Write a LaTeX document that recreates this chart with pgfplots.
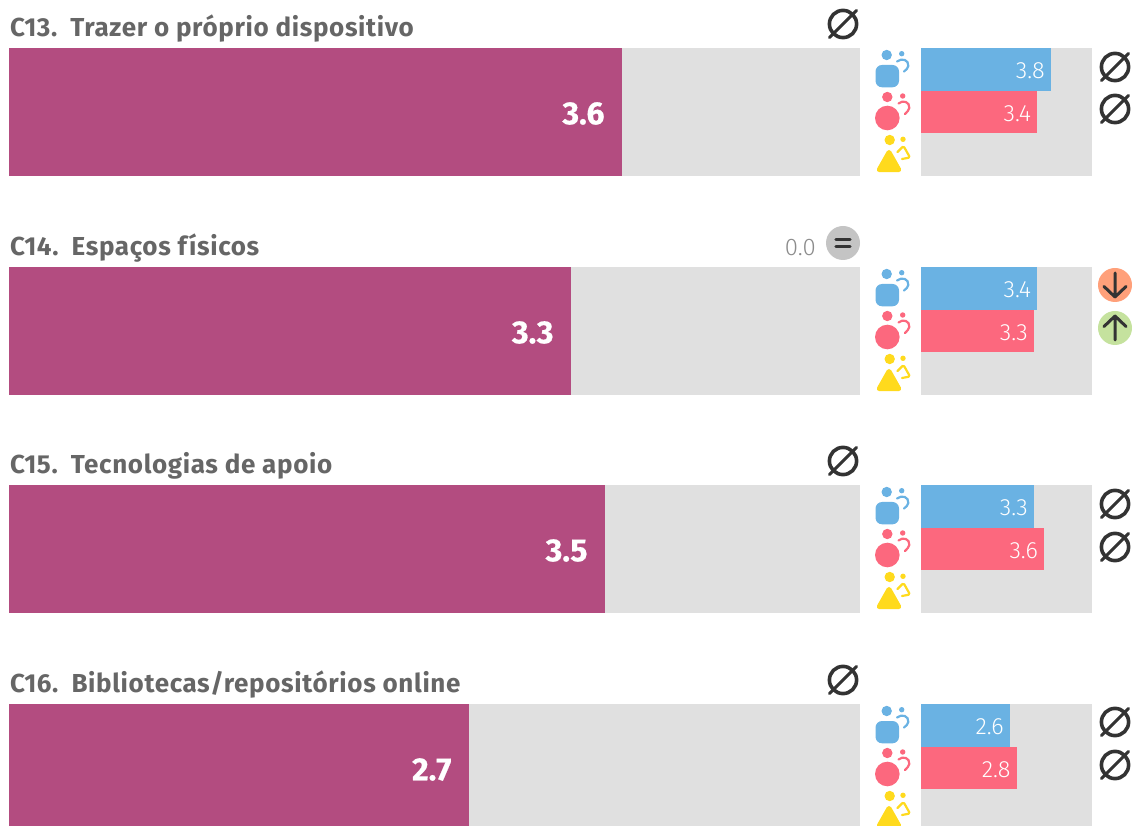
\documentclass[border=0pt]{standalone}
\usepackage{pgfplots}
\pgfplotsset{compat=1.18}
\usepackage{fontspec}
\setmainfont{Fira Sans}
\newfontfamily\titlefont[LetterSpace=2.5]{Fira Sans}
\newfontfamily\lightfont{Fira Sans Light}
\newfontfamily\bigfont[FakeBold=0.6]{Fira Sans Bold}
\definecolor{cmain}{HTML}{B34C80}
\definecolor{cblue}{HTML}{6AB2E3}
\definecolor{cred}{HTML}{FC687E}
\definecolor{cyel}{HTML}{FFDA1D}
\definecolor{cgray}{HTML}{E0E0E0}
\definecolor{ctitle}{HTML}{666666}
\definecolor{cdark}{HTML}{333333}
\definecolor{cnum}{HTML}{8C8C8C}
\definecolor{ceq}{HTML}{C4C4C4}
\definecolor{cdown}{HTML}{FFA07A}
\definecolor{cup}{HTML}{C5E29E}
\pgfplotsset{panel/.style={hide axis,scale only axis,xmin=0,xmax=5,clip=false,anchor=south west}}
% #1 top in px, #2 value
\newcommand{\mainpanel}[2]{%
\begin{axis}[panel,width=851pt,height=128pt,ymin=-0.5,ymax=0.5,
  at={(9pt,{(825-#1-128)*1pt})}]
\addplot[xbar,bar width=128pt,bar shift=0pt,fill=cgray,draw=none] coordinates {(5,0)};
\addplot[xbar,bar width=128pt,bar shift=0pt,fill=cmain,draw=none,
  point meta=x,
  nodes near coords={\pgfmathprintnumber[assume math mode=true,fixed,fixed zerofill,precision=1]{\pgfplotspointmeta}},
  every node near coord/.append style={anchor=east,inner sep=0pt,xshift=-17pt,yshift=-1.5pt,text=white,
    font=\fontsize{32}{32}\bigfont}]
  coordinates {(#2,0)};
\end{axis}}
% #1 top, #2 blue, #3 red
\newcommand{\sidepanel}[3]{%
\begin{axis}[panel,width=171pt,height=128pt,ymin=-0.5,ymax=2.5,y dir=reverse,
  at={(921pt,{(825-#1-128)*1pt})},
  sidebar/.style={xbar,bar width=42.8pt,bar shift=0pt,draw=none,point meta=x,
  nodes near coords={\pgfmathprintnumber[assume math mode=true,fixed,fixed zerofill,precision=1]{\pgfplotspointmeta}},
  every node near coord/.append style={anchor=east,inner sep=0pt,xshift=-6pt,yshift=-1.5pt,text=white,
    font=\fontsize{23.5}{23.5}\lightfont}}]
\addplot[xbar,bar width=128pt,bar shift=0pt,fill=cgray,draw=none] coordinates {(5,1)};
\addplot[sidebar,fill=cblue] coordinates {(#2,0)};
\addplot[sidebar,fill=cred] coordinates {(#3,1)};
\end{axis}}
\newcommand{\icons}[1]{%
\begin{scope}[x=1pt,y=-1pt,shift={(0pt,{(825-#1)*1pt})}]
 \fill[cblue] (886.7,7) circle (5.2) (901.7,5.7) circle (2.7);
 \fill[cblue,rounded corners=6.5pt] (875.5,17) rectangle (899,39.3);
 \draw[cblue,line width=2.2pt,line cap=round] (897,13.5) .. controls (902,9.5) and (909,12) .. (908.3,18) .. controls (907.8,20) and (906.5,22) .. (904,23.5);
 \fill[cred] (887.3,49) circle (5.2) (902.7,48) circle (2.7) (887.3,70) circle (12.3);
 \draw[cred,line width=2.2pt,line cap=round] (898.5,55.5) .. controls (903,51.5) and (910,54) .. (909.3,60) .. controls (908.8,62) and (907,64.5) .. (905,66);
 \fill[cyel] (889.7,92) circle (5.2) (903,91.3) circle (2.7);
 \filldraw[cyel,line width=5pt,line join=round] (889,104.5) -- (879.3,121.7) -- (898.7,121.7) -- cycle;
 \draw[cyel,line width=2.2pt,line cap=round,line join=round,rounded corners=1.5pt] (897.5,104) -- (903.5,98) -- (910,109.5) -- (902,111);
\end{scope}}
\newcommand{\noicon}[2]{%
\begin{scope}[x=1pt,y=-1pt,shift={(0pt,825pt)}]
 \draw[cdark,line width=3.6pt] (#1,#2) circle (13.6);
 \draw[cdark,line width=3pt,line cap=round] (#1-13.5,#2+13.5) -- (#1+13.5,#2-13.5);
\end{scope}}
\newcommand{\arrowicon}[4]{% x,y,colour,dir(+1 down)
\begin{scope}[x=1pt,y=-1pt,shift={(0pt,825pt)}]
 \fill[#3] (#1,#2) circle (17);
 \draw[cdark,line width=3pt,line cap=round,line join=round]
   (#1,#2-#4*12) -- (#1,#2+#4*12) (#1-11,#2+#4*1.5) -- (#1,#2+#4*12) -- (#1+11,#2+#4*1.5);
\end{scope}}
\newcommand{\ttl}[2]{\node[anchor=base west,inner sep=0pt,text=ctitle,font=\fontsize{26}{26}\titlefont\bfseries] at (10pt,{(825-#1)*1pt}) {#2};}
\begin{document}
\begin{tikzpicture}
\path[use as bounding box,clip] (0,0) rectangle (1132pt,825pt);
\mainpanel{48}{3.6}\sidepanel{48}{3.8}{3.4}\icons{48}
\mainpanel{267}{3.3}\sidepanel{267}{3.4}{3.3}\icons{267}
\mainpanel{485}{3.5}\sidepanel{485}{3.3}{3.6}\icons{485}
\mainpanel{704}{2.7}\sidepanel{704}{2.6}{2.8}\icons{704}
\ttl{37}{C13.\hspace{4pt} Trazer o próprio dispositivo}
\ttl{255.5}{C14.\hspace{4pt} Espaços físicos}
\ttl{473.5}{C15.\hspace{4pt} Tecnologias de apoio}
\ttl{692}{C16.\hspace{4pt} Bibliotecas/repositórios online}
\noicon{843}{24}
\noicon{1115}{67}\noicon{1115}{109}
\noicon{843}{461}
\noicon{1115}{504}\noicon{1115}{547}
\noicon{843}{680}
\noicon{1115}{722}\noicon{1115}{765}
\node[anchor=base east,inner sep=0pt,text=cnum,font=\fontsize{24}{24}\lightfont] at (816pt,{(825-255.5)*1pt}) {0.0};
\fill[ceq] (843pt,{(825-243)*1pt}) circle (17pt);
\draw[cdark,line width=3.4pt,line cap=round] (836pt,{(825-239.5)*1pt}) -- (850pt,{(825-239.5)*1pt}) (836pt,{(825-246.5)*1pt}) -- (850pt,{(825-246.5)*1pt});
\arrowicon{1115}{285}{cdown}{1}
\arrowicon{1115}{328}{cup}{-1}
\end{tikzpicture}
\end{document}
